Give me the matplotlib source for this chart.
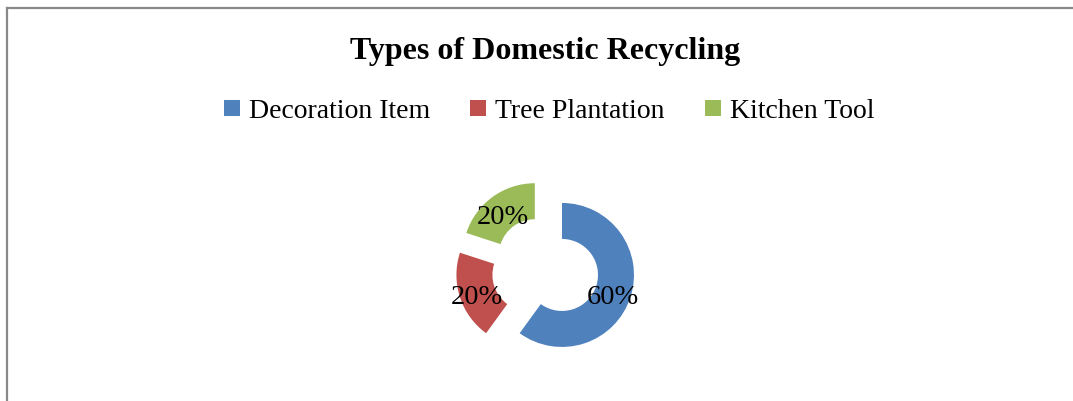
import matplotlib
matplotlib.use("Agg")
import matplotlib.pyplot as plt
import matplotlib.transforms as mtransforms
from matplotlib.lines import Line2D

categories = ["Decoration Item", "Tree Plantation", "Kitchen Tool"]
shares = [60, 20, 20]
colors = ["#4F81BD", "#C0504D", "#9BBB59"]

W, H = 1073, 401
fig = plt.figure(figsize=(W / 100, H / 100), dpi=100)

# pie axes: one data unit == outer radius (72 px)
cx, cy, r = 545.2, 269.5, 72.0
ax = fig.add_axes([0, 0, 1, 1])

wedges, texts, autotexts = ax.pie(
    shares,
    colors=colors,
    startangle=90,
    counterclock=False,
    explode=[0.245] * 3,
    radius=1.0,
    wedgeprops=dict(width=0.5, linewidth=0),
    autopct="%d%%",
    pctdistance=0.75,
    textprops=dict(family="Liberation Serif", fontsize=20.5, color="black"),
)
ax.set_aspect("auto")
ax.set_xlim(-cx / r, (W - cx) / r)
ax.set_ylim(-(H - cy) / r, cy / r)
ax.axis("off")

# nudge the percentage labels down a little
shift = mtransforms.ScaledTranslation(0, -4 / 72, fig.dpi_scale_trans)
for t in autotexts:
    t.set_transform(t.get_transform() + shift)

fig.text(545 / W, 1 - 52 / H, "Types of Domestic Recycling", ha="center", va="center",
         family="Liberation Serif", fontweight="bold", fontsize=23)

handles = [Line2D([], [], marker="s", linestyle="none", markersize=11,
                  markerfacecolor=c, markeredgewidth=0) for c in colors]
fig.legend(handles, categories, loc="center", bbox_to_anchor=(549 / W, 1 - 111 / H),
           ncol=3, frameon=False, handlelength=0.6, handletextpad=0.3,
           columnspacing=1.45, prop=dict(family="Liberation Serif", size=20))

# chart frame, cut off at right and bottom
fig.add_artist(Line2D([7 / W, 1.0], [1 - 8 / H, 1 - 8 / H], color="#898989", linewidth=1.6))
fig.add_artist(Line2D([7 / W, 7 / W], [0.0, 1 - 8 / H], color="#898989", linewidth=1.6))

fig.savefig("out.png", dpi=100)
